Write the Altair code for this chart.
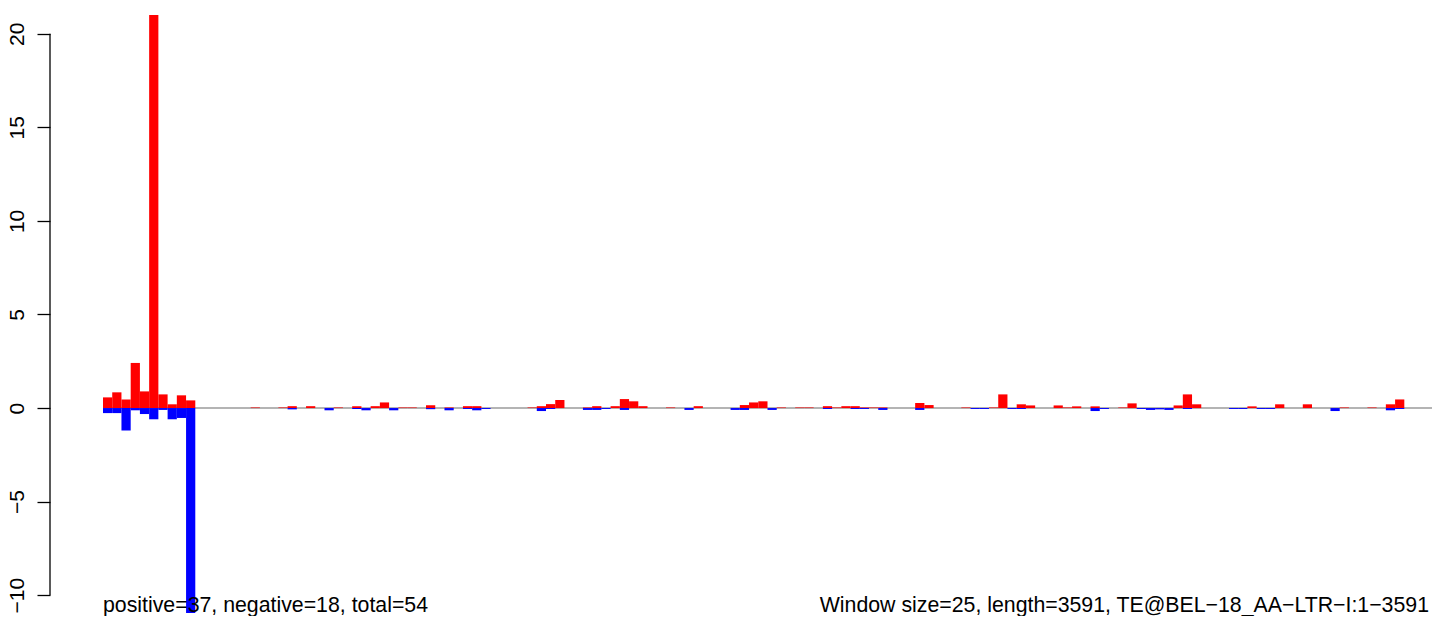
import altair as alt
import pandas as pd

# ---- data (window index -> value) ----
WINDOW = 25
N_BINS = 144

pos_bins = [0, 1, 2, 3, 4, 5, 6, 7, 8, 9,
            16, 19, 20, 22, 25, 27, 29, 30, 32, 33,
            35, 37, 39, 40, 46, 47, 48, 49, 52, 53,
            55, 56, 57, 58, 61, 64, 69, 70, 71, 73,
            75, 76, 78, 79, 80, 81, 82, 83, 84, 88,
            89, 93, 96, 97, 99, 100, 103, 104, 105, 107,
            110, 111, 116, 117, 118, 124, 127, 130, 134, 137,
            139, 140]
pos_vals = [0.57, 0.84, 0.46, 2.41, 0.89, 21.0, 0.73, 0.2, 0.68, 0.41,
            0.03, 0.03, 0.1, 0.1, 0.03, 0.1, 0.1, 0.3, 0.03, 0.03,
            0.15, 0.03, 0.1, 0.1, 0.03, 0.1, 0.21, 0.43, 0.03, 0.1,
            0.1, 0.48, 0.36, 0.1, 0.03, 0.1, 0.16, 0.3, 0.36, 0.03,
            0.03, 0.03, 0.1, 0.03, 0.1, 0.1, 0.03, 0.03, 0.03, 0.27,
            0.16, 0.03, 0.03, 0.73, 0.2, 0.14, 0.14, 0.03, 0.09, 0.09,
            0.03, 0.25, 0.14, 0.73, 0.2, 0.09, 0.2, 0.2, 0.03, 0.03,
            0.2, 0.46]

neg_bins = [0, 1, 2, 3, 4, 5, 6, 7, 8, 9,
            20, 24, 27, 28, 31, 35, 37, 39, 40, 41,
            47, 48, 52, 53, 54, 56, 63, 68, 69, 72,
            78, 81, 82, 84, 88, 94, 95, 98, 99, 107,
            108, 112, 113, 114, 115, 117, 122, 123, 125, 126,
            133, 139, 140]
neg_vals = [-0.27, -0.27, -1.2, -0.12, -0.32, -0.6, -0.1, -0.6, -0.53, -10.95,
            -0.07, -0.12, -0.05, -0.12, -0.12, -0.06, -0.12, -0.05, -0.12, -0.05,
            -0.16, -0.05, -0.1, -0.1, -0.05, -0.1, -0.1, -0.1, -0.1, -0.1,
            -0.05, -0.05, -0.05, -0.1, -0.1, -0.05, -0.05, -0.05, -0.05, -0.16,
            -0.05, -0.05, -0.1, -0.07, -0.1, -0.05, -0.05, -0.05, -0.05, -0.05,
            -0.16, -0.12, -0.05]

y_ticks = [-10, -5, 0, 5, 10, 15, 20]
left_note = "positive=37, negative=18, total=54"
right_note = "Window size=25, length=3591, TE@BEL\u221218_AA\u2212LTR\u2212I:1\u22123591"

# ---- tables ----
def make_df(bins, vals):
    return pd.DataFrame({
        "start": [b * WINDOW for b in bins],
        "end": [(b + 1) * WINDOW for b in bins],
        "value": vals,
        "base": [0.0] * len(bins),
    })

pos_df = make_df(pos_bins, pos_vals)
neg_df = make_df(neg_bins, neg_vals)

W, H = 1329, 598
FONT = "Liberation Sans"

xscale = alt.Scale(domain=[0, N_BINS * WINDOW], nice=False, zero=False)
yscale = alt.Scale(domain=[-10.95, 21], nice=False, zero=False)

yaxis = alt.Axis(values=y_ticks, domain=False, grid=False, tickSize=13,
                 tickColor="black", tickWidth=1.3, offset=53,
                 labelAngle=270, labelAlign="center", labelBaseline="alphabetic",
                 labelPadding=13.5, labelFont=FONT, labelFontSize=21,
                 labelColor="black", title=None, format="d")

zero_df = pd.DataFrame({"x0": [0], "x1": [N_BINS * WINDOW], "y": [0.0]})
zero_line = alt.Chart(zero_df).mark_rule(color="#b4b4b4", strokeWidth=2).encode(
    x=alt.X("x0:Q", scale=xscale, axis=None),
    x2="x1:Q",
    y=alt.Y("y:Q", scale=yscale, axis=yaxis),
)

def bars(df, color):
    return alt.Chart(df).mark_rect(color=color).encode(
        x=alt.X("start:Q", scale=xscale, axis=None),
        x2="end:Q",
        y=alt.Y("value:Q", scale=yscale, axis=yaxis),
        y2="base:Q",
    )

axis_df = pd.DataFrame({"lo": [min(y_ticks)], "hi": [max(y_ticks)]})
axis_line = alt.Chart(axis_df).mark_rule(color="black", strokeWidth=1.3).encode(
    x=alt.value(-53),
    y=alt.Y("lo:Q", scale=yscale, axis=yaxis),
    y2="hi:Q",
)

left_text = alt.Chart(pd.DataFrame({"t": [left_note]})).mark_text(
    align="left", baseline="alphabetic", font=FONT, fontSize=21.3, color="black"
).encode(x=alt.value(0), y=alt.value(H - 1), text="t:N")

right_text = alt.Chart(pd.DataFrame({"t": [right_note]})).mark_text(
    align="right", baseline="alphabetic", font=FONT, fontSize=21.3, color="black"
).encode(x=alt.value(W - 3), y=alt.value(H - 1), text="t:N")

chart = alt.layer(
    zero_line, bars(pos_df, "#ff0000"), bars(neg_df, "#0000ff"),
    axis_line, left_text, right_text,
).properties(
    width=W, height=H,
    padding={"left": 95, "top": 7, "right": 4, "bottom": 3},
    autosize=alt.AutoSizeParams(type="none"),
).configure(background="white").configure_view(strokeWidth=0)

chart.save("out.html", embed_options={"renderer": "svg", "actions": False})
